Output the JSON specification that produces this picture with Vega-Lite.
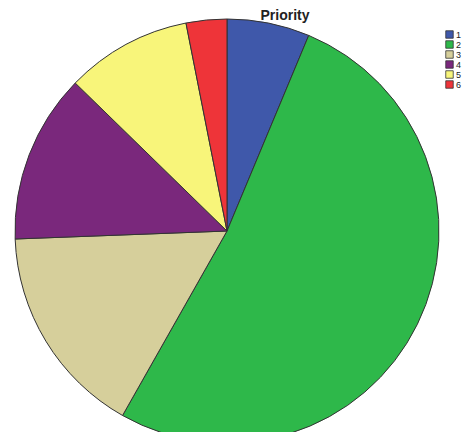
{
  "$schema": "https://vega.github.io/schema/vega-lite/v6.json",
  "autosize": "none",
  "padding": {"left": 0, "top": 0, "right": 10, "bottom": 0},
  "width": 454,
  "height": 462,
  "background": "white",
  "title": {"text": "Priority", "anchor": "middle", "dx": 58, "offset": -23, "fontSize": 14, "fontWeight": "bold", "font": "Liberation Sans", "color": "#222222"},
  "data": {"values": [
    {"priority": "1", "percent": 6.3},
    {"priority": "2", "percent": 51.9},
    {"priority": "3", "percent": 16.2},
    {"priority": "4", "percent": 12.9},
    {"priority": "5", "percent": 9.6},
    {"priority": "6", "percent": 3.1}
  ]},
  "mark": {"type": "arc", "outerRadius": 212, "stroke": "#333333", "strokeWidth": 1},
  "encoding": {
    "theta": {"field": "percent", "type": "quantitative", "stack": true},
    "order": {"field": "priority", "type": "ordinal"},
    "color": {
      "field": "priority", "type": "nominal",
      "scale": {"domain": ["1","2","3","4","5","6"], "range": ["#3F58AA", "#2EB84A", "#D6CF9B", "#7A287C", "#F8F57A", "#EE3439"]},
      "legend": {"orient": "none", "legendX": 445, "legendY": 30, "title": null, "symbolType": "square", "symbolSize": 56, "symbolStrokeColor": "#333333", "symbolStrokeWidth": 0.8, "labelFontSize": 9, "labelFont": "Liberation Sans", "labelOffset": 2, "rowPadding": -2, "labelColor": "#222222"}
    }
  }
}
